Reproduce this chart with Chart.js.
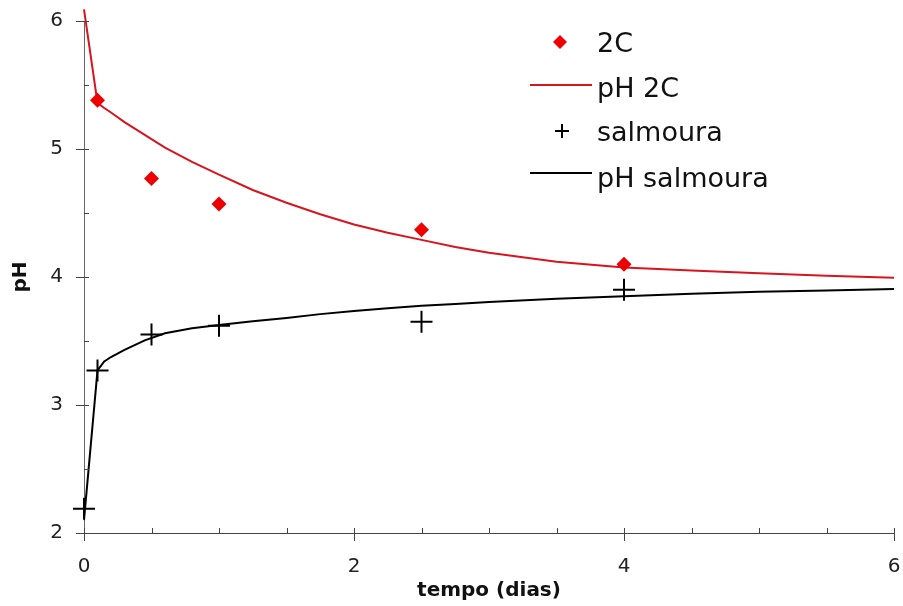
<!DOCTYPE html>
<html>
<head>
<meta charset="utf-8">
<script src="https://cdn.jsdelivr.net/npm/chart.js@4"></script>
<style>
  html, body { margin: 0; padding: 0; background: #fff; }
  #wrap { width: 903px; height: 606px; }
</style>
</head>
<body>
<div id="wrap"><canvas id="c" width="903" height="606"></canvas></div>
<script>
// ---- data ----
const tempo2C = [0.1, 0.5, 1, 2.5, 4];
const ph2C = [5.38, 4.77, 4.57, 4.37, 4.10];

const tempoSalmoura = [0, 0.1, 0.5, 1, 2.5, 4];
const phSalmoura = [2.19, 3.27, 3.55, 3.62, 3.65, 3.90];

const tempoModelo = [0, 0.1, 0.15, 0.2, 0.3, 0.45, 0.6, 0.8, 1, 1.25, 1.5, 1.75, 2, 2.25, 2.5, 2.75, 3, 3.5, 4, 4.5, 5, 5.5, 6];
const modelo2C = [6.09, 5.36, 5.32, 5.285, 5.21, 5.11, 5.01, 4.90, 4.80, 4.68, 4.58, 4.49, 4.41, 4.345, 4.29, 4.235, 4.19, 4.12, 4.075, 4.05, 4.03, 4.01, 3.995];
const modeloSalmoura = [2.10, 3.27, 3.34, 3.375, 3.43, 3.505, 3.56, 3.60, 3.625, 3.655, 3.68, 3.71, 3.735, 3.755, 3.775, 3.79, 3.805, 3.83, 3.85, 3.87, 3.885, 3.895, 3.906];

const xTickLabels = [0, 2, 4, 6];
const yTickLabels = [2, 3, 4, 5, 6];
const legendLabels = ['2C', 'pH 2C', 'salmoura', 'pH salmoura'];

const toPts = (xs, ys) => xs.map((x, i) => ({ x: x, y: ys[i] }));

const RED_PT = '#ee0000';
const RED_LN = '#d8141e';
const BLACK = '#000000';

const tickPlugin = {
  id: 'minorTicks',
  afterDraw(chart) {
    const ctx = chart.ctx;
    const xs = chart.scales.x, ys = chart.scales.y;
    const a = chart.chartArea;
    ctx.save();
    ctx.strokeStyle = '#444';
    ctx.lineWidth = 1;
    for (let v = xs.min; v <= xs.max + 1e-9; v += 0.5) {
      const px = Math.round(xs.getPixelForValue(v)) + 0.5;
      const major = xTickLabels.indexOf(v) >= 0;
      ctx.beginPath();
      ctx.moveTo(px, a.bottom - 5);
      ctx.lineTo(px, a.bottom + (major ? 8 : 0));
      ctx.stroke();
    }
    for (let v = ys.min; v <= ys.max + 1e-9; v += 0.5) {
      const py = Math.round(ys.getPixelForValue(v)) + 0.5;
      const major = yTickLabels.indexOf(v) >= 0;
      ctx.beginPath();
      ctx.moveTo(a.left - (major ? 8 : 0), py);
      ctx.lineTo(a.left + 5, py);
      ctx.stroke();
    }
    ctx.restore();
  }
};

const legendPlugin = {
  id: 'customLegend',
  afterDraw(chart) {
    const ctx = chart.ctx;
    ctx.save();
    ctx.font = '27px "DejaVu Sans"';
    ctx.fillStyle = '#111';
    ctx.textAlign = 'left';
    ctx.textBaseline = 'alphabetic';
    const tx = 597;
    const base = [52, 97, 141, 187];
    legendLabels.forEach((t, i) => ctx.fillText(t, tx, base[i]));
    ctx.fillStyle = RED_PT;
    ctx.beginPath();
    ctx.moveTo(560, 35); ctx.lineTo(567, 42); ctx.lineTo(560, 49); ctx.lineTo(553, 42);
    ctx.closePath(); ctx.fill();
    ctx.strokeStyle = RED_LN; ctx.lineWidth = 2;
    ctx.beginPath(); ctx.moveTo(530, 85); ctx.lineTo(592, 85); ctx.stroke();
    ctx.strokeStyle = BLACK; ctx.lineWidth = 2;
    ctx.beginPath();
    ctx.moveTo(555, 131); ctx.lineTo(569, 131);
    ctx.moveTo(562, 124); ctx.lineTo(562, 138);
    ctx.stroke();
    ctx.beginPath(); ctx.moveTo(530, 173); ctx.lineTo(592, 173); ctx.stroke();
    ctx.restore();
  }
};

new Chart(document.getElementById('c'), {
  type: 'scatter',
  data: {
    datasets: [
      {
        label: 'pH 2C',
        data: toPts(tempoModelo, modelo2C),
        showLine: true,
        borderColor: RED_LN,
        borderWidth: 2,
        pointRadius: 0,
        tension: 0,
        clip: false,
        order: 3
      },
      {
        label: 'pH salmoura',
        data: toPts(tempoModelo, modeloSalmoura),
        showLine: true,
        borderColor: BLACK,
        borderWidth: 2,
        pointRadius: 0,
        tension: 0,
        order: 4
      },
      {
        label: '2C',
        data: toPts(tempo2C, ph2C),
        showLine: false,
        pointStyle: 'rectRot',
        pointRadius: 7.5,
        backgroundColor: RED_PT,
        borderColor: RED_PT,
        borderWidth: 0,
        order: 1
      },
      {
        label: 'salmoura',
        data: toPts(tempoSalmoura, phSalmoura),
        showLine: false,
        pointStyle: 'cross',
        pointRadius: 11,
        borderColor: BLACK,
        borderWidth: 2,
        clip: false,
        order: 2
      }
    ]
  },
  options: {
    responsive: false,
    animation: false,
    devicePixelRatio: 1,
    layout: { autoPadding: false, padding: { top: 21, right: 9, left: 0, bottom: 0 } },
    plugins: { legend: { display: false }, tooltip: { enabled: false } },
    scales: {
      x: {
        type: 'linear',
        min: 0, max: 6,
        grid: { display: false, drawTicks: false },
        border: { display: true, color: '#444', width: 1 },
        ticks: {
          stepSize: 0.5,
          autoSkip: false,
          maxRotation: 0,
          padding: 22,
          color: '#222',
          font: { family: '"DejaVu Sans"', size: 20 },
          callback: (v) => xTickLabels.indexOf(v) >= 0 ? String(v) : ''
        },
        title: {
          display: true,
          text: 'tempo (dias)',
          color: '#111',
          font: { family: '"DejaVu Sans"', size: 20, weight: 'bold' },
          padding: { top: 0, bottom: 3 }
        },
        afterFit: (s) => { s.height = 73; s.paddingLeft = 0; s.paddingRight = 0; }
      },
      y: {
        type: 'linear',
        min: 2, max: 6,
        grid: { display: false, drawTicks: false },
        border: { display: true, color: '#666', width: 1 },
        ticks: {
          stepSize: 0.5,
          autoSkip: false,
          padding: 21,
          color: '#222',
          font: { family: '"DejaVu Sans"', size: 20 },
          callback: (v) => yTickLabels.indexOf(v) >= 0 ? String(v) : ''
        },
        title: {
          display: true,
          text: 'pH',
          color: '#111',
          font: { family: '"DejaVu Sans"', size: 20, weight: 'bold' },
          padding: { top: 9, bottom: 0 }
        },
        afterFit: (s) => { s.width = 84; s.paddingTop = 0; s.paddingBottom = 0; }
      }
    }
  },
  plugins: [tickPlugin, legendPlugin]
});
</script>
</body>
</html>
